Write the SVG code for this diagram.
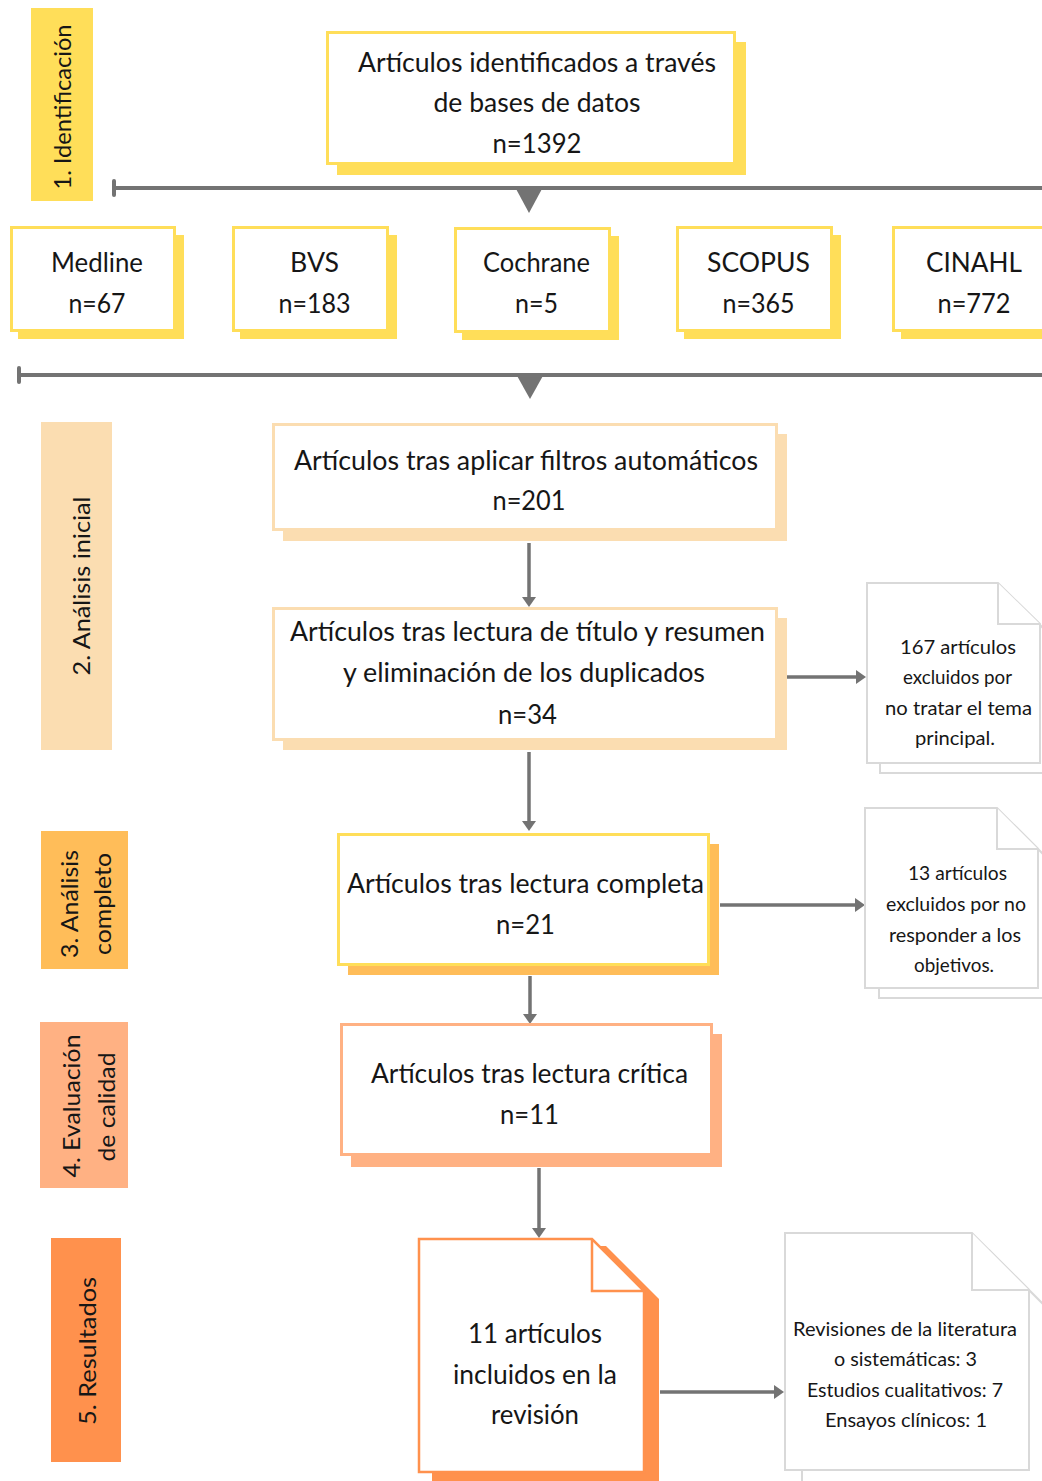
<svg xmlns="http://www.w3.org/2000/svg" width="1042" height="1481" viewBox="0 0 1042 1481">
<defs>
<style>
.t{font-family:Lato,"Open Sans","Liberation Sans",sans-serif;fill:#161616;text-anchor:middle}
.m{font-size:27px}
.s{font-size:20px}
.g{font-size:24px}
.conn{stroke:#737373;stroke-width:3.5;fill:none}
.bar{stroke:#737373;stroke-width:4;fill:none}
.tri{fill:#737373}
.box{fill:#ffffff;stroke-width:3}
.doc{fill:#ffffff;stroke:#D9D9D9;stroke-width:2}
</style>
<marker id="ah" viewBox="0 0 10 14" markerUnits="userSpaceOnUse" markerWidth="10" markerHeight="14" refX="2" refY="7" orient="auto">
<path d="M0,0 L10,7 L0,14 Z" fill="#737373"/>
</marker>
</defs>
<rect width="1042" height="1481" fill="#ffffff"/>

<!-- stage labels -->
<g id="stage1">
<rect x="31" y="8" width="62" height="193" fill="#FFDE59"/>
<text class="t g" transform="translate(71,107) rotate(-90)" textLength="165" lengthAdjust="spacingAndGlyphs">1.  Identificación</text>
</g>
<g id="stage2">
<rect x="41" y="422" width="71" height="328" fill="#FBDDB1"/>
<text class="t g" transform="translate(90,586) rotate(-90)" textLength="179" lengthAdjust="spacingAndGlyphs">2. Análisis inicial</text>
</g>
<g id="stage3">
<rect x="41" y="831" width="87" height="138" fill="#FFBD59"/>
<text class="t g" transform="translate(78,904) rotate(-90)" textLength="108" lengthAdjust="spacingAndGlyphs">3. Análisis</text>
<text class="t g" transform="translate(111,904) rotate(-90)" textLength="102" lengthAdjust="spacingAndGlyphs">completo</text>
</g>
<g id="stage4">
<rect x="40" y="1022" width="88" height="166" fill="#FFB183"/>
<text class="t g" transform="translate(80,1106) rotate(-90)" textLength="143" lengthAdjust="spacingAndGlyphs">4. Evaluación</text>
<text class="t g" transform="translate(115,1107) rotate(-90)" textLength="109" lengthAdjust="spacingAndGlyphs">de calidad</text>
</g>
<g id="stage5">
<rect x="51" y="1238" width="70" height="224" fill="#FF914D"/>
<text class="t g" transform="translate(96,1351) rotate(-90)" textLength="148" lengthAdjust="spacingAndGlyphs">5. Resultados</text>
</g>

<!-- connectors -->
<g id="connectors">
<line class="bar" x1="114" y1="188" x2="1042" y2="188"/>
<line x1="114" y1="181" x2="114" y2="195" stroke="#737373" stroke-width="4" stroke-linecap="round"/>
<polygon class="tri" points="515,187 543,187 529,213"/>
<line class="bar" x1="19" y1="375" x2="1042" y2="375"/>
<line x1="19" y1="368" x2="19" y2="382" stroke="#737373" stroke-width="4" stroke-linecap="round"/>
<polygon class="tri" points="516,374 544,374 530,399"/>
<line class="conn" x1="529" y1="543" x2="529" y2="599" marker-end="url(#ah)"/>
<line class="conn" x1="786" y1="677" x2="858" y2="677" marker-end="url(#ah)"/>
<line class="conn" x1="529" y1="752" x2="529" y2="823" marker-end="url(#ah)"/>
<line class="conn" x1="720" y1="905" x2="857" y2="905" marker-end="url(#ah)"/>
<line class="conn" x1="530" y1="976" x2="530" y2="1016" marker-end="url(#ah)"/>
<line class="conn" x1="539" y1="1168" x2="539" y2="1230" marker-end="url(#ah)"/>
<line class="conn" x1="660" y1="1392" x2="776" y2="1392" marker-end="url(#ah)"/>
</g>

<!-- top node -->
<g id="n_total">
<rect x="337" y="42" width="409" height="133" fill="#FFDE59"/>
<rect class="box" x="327.5" y="32.5" width="407" height="131" stroke="#FFDE59"/>
<text class="t m" x="537" y="72" textLength="358" lengthAdjust="spacingAndGlyphs">Artículos identificados a través</text>
<text class="t m" x="537" y="112" textLength="207" lengthAdjust="spacingAndGlyphs">de bases de datos</text>
<text class="t m" x="537" y="153" textLength="89" lengthAdjust="spacingAndGlyphs">n=1392</text>
</g>

<!-- database nodes -->
<g id="n_medline">
<rect x="18" y="235" width="166" height="104" fill="#FFDE59"/>
<rect class="box" x="11.5" y="227.5" width="163" height="103" stroke="#FFDE59"/>
<text class="t m" x="97" y="272" textLength="92" lengthAdjust="spacingAndGlyphs">Medline</text>
<text class="t m" x="97" y="313" textLength="57" lengthAdjust="spacingAndGlyphs">n=67</text>
</g>
<g id="n_bvs">
<rect x="240" y="235" width="157" height="104" fill="#FFDE59"/>
<rect class="box" x="233.5" y="227.5" width="154" height="103" stroke="#FFDE59"/>
<text class="t m" x="314.5" y="272" textLength="49" lengthAdjust="spacingAndGlyphs">BVS</text>
<text class="t m" x="314.5" y="313" textLength="72" lengthAdjust="spacingAndGlyphs">n=183</text>
</g>
<g id="n_cochrane">
<rect x="462" y="236" width="157" height="104" fill="#FFDE59"/>
<rect class="box" x="455.5" y="228.5" width="154" height="103" stroke="#FFDE59"/>
<text class="t m" x="536.5" y="272" textLength="107" lengthAdjust="spacingAndGlyphs">Cochrane</text>
<text class="t m" x="536.5" y="313" textLength="43" lengthAdjust="spacingAndGlyphs">n=5</text>
</g>
<g id="n_scopus">
<rect x="684" y="235" width="157" height="104" fill="#FFDE59"/>
<rect class="box" x="677.5" y="227.5" width="154" height="103" stroke="#FFDE59"/>
<text class="t m" x="758.5" y="272" textLength="103" lengthAdjust="spacingAndGlyphs">SCOPUS</text>
<text class="t m" x="758.5" y="313" textLength="72" lengthAdjust="spacingAndGlyphs">n=365</text>
</g>
<g id="n_cinahl">
<rect x="901" y="235" width="160" height="104" fill="#FFDE59"/>
<rect class="box" x="893.5" y="227.5" width="160" height="103" stroke="#FFDE59"/>
<text class="t m" x="974" y="272" textLength="96" lengthAdjust="spacingAndGlyphs">CINAHL</text>
<text class="t m" x="974" y="313" textLength="73" lengthAdjust="spacingAndGlyphs">n=772</text>
</g>

<!-- stage 2 nodes -->
<g id="n_filtros">
<rect x="283" y="434" width="504" height="107" fill="#FBDDB1"/>
<rect class="box" x="273.5" y="424.5" width="503" height="105" stroke="#FBDDB1"/>
<text class="t m" x="526" y="470" textLength="464" lengthAdjust="spacingAndGlyphs">Artículos tras aplicar filtros automáticos</text>
<text class="t m" x="529" y="510" textLength="73" lengthAdjust="spacingAndGlyphs">n=201</text>
</g>
<g id="n_titulo">
<rect x="283" y="618" width="504" height="132" fill="#FBDDB1"/>
<rect class="box" x="273.5" y="608.5" width="503" height="131" stroke="#FBDDB1"/>
<text class="t m" x="527.5" y="641" textLength="475" lengthAdjust="spacingAndGlyphs">Artículos tras lectura de título y resumen</text>
<text class="t m" x="524" y="682" textLength="362" lengthAdjust="spacingAndGlyphs">y eliminación de los duplicados</text>
<text class="t m" x="527.5" y="724" textLength="59" lengthAdjust="spacingAndGlyphs">n=34</text>
</g>
<g id="n_excl1">
<path class="doc" d="M880,773 V600 H1015 L1060,645 V773 Z"/>
<path class="doc" d="M867,583 H998 L1040,624 V763 H867 Z"/>
<path class="doc" d="M998,583 V624 H1040"/>
<text class="t s" x="958" y="654" textLength="116" lengthAdjust="spacingAndGlyphs">167 artículos</text>
<text class="t s" x="957.5" y="684" textLength="109" lengthAdjust="spacingAndGlyphs">excluidos por</text>
<text class="t s" x="958.5" y="715" textLength="147" lengthAdjust="spacingAndGlyphs">no tratar el tema</text>
<text class="t s" x="955" y="745" textLength="80" lengthAdjust="spacingAndGlyphs">principal.</text>
</g>

<!-- stage 3 -->
<g id="n_completa">
<rect x="348" y="844" width="371" height="131" fill="#FFBD59"/>
<rect class="box" x="338.5" y="834.5" width="370" height="130" stroke="#FFDE59"/>
<text class="t m" x="525.5" y="893" textLength="357" lengthAdjust="spacingAndGlyphs">Artículos tras lectura completa</text>
<text class="t m" x="525.5" y="934" textLength="59" lengthAdjust="spacingAndGlyphs">n=21</text>
</g>
<g id="n_excl2">
<path class="doc" d="M879,998 V825 H1014 L1060,871 V998 Z"/>
<path class="doc" d="M865,808 H997 L1038,849 V988 H865 Z"/>
<path class="doc" d="M997,808 V849 H1038"/>
<text class="t s" x="957.5" y="880" textLength="99" lengthAdjust="spacingAndGlyphs">13 artículos</text>
<text class="t s" x="956" y="911" textLength="140" lengthAdjust="spacingAndGlyphs">excluidos por no</text>
<text class="t s" x="955" y="942" textLength="132" lengthAdjust="spacingAndGlyphs">responder a los</text>
<text class="t s" x="954" y="972" textLength="80" lengthAdjust="spacingAndGlyphs">objetivos.</text>
</g>

<!-- stage 4 -->
<g id="n_critica">
<rect x="351" y="1034" width="371" height="133" fill="#FFB183"/>
<rect class="box" x="341.5" y="1024.5" width="370" height="130" stroke="#FFB183"/>
<text class="t m" x="529.5" y="1083" textLength="317" lengthAdjust="spacingAndGlyphs">Artículos tras lectura crítica</text>
<text class="t m" x="529.5" y="1124" textLength="59" lengthAdjust="spacingAndGlyphs">n=11</text>
</g>

<!-- stage 5 -->
<g id="n_incluidos">
<path d="M432,1246 H606 L659,1299 V1481 H432 Z" fill="#FF914D"/>
<path d="M419,1239 H592 L644,1291 V1472 H419 Z" fill="#ffffff" stroke="#FF914D" stroke-width="2.5"/>
<path d="M592,1239 V1291 H644" fill="none" stroke="#FF914D" stroke-width="2.5"/>
<text class="t m" x="535" y="1343" textLength="134" lengthAdjust="spacingAndGlyphs">11 artículos</text>
<text class="t m" x="535" y="1384" textLength="164" lengthAdjust="spacingAndGlyphs">incluidos en la</text>
<text class="t m" x="535" y="1424" textLength="88" lengthAdjust="spacingAndGlyphs">revisión</text>
</g>
<g id="n_tipos">
<path class="doc" d="M802,1495 V1250 H989 L1049,1310 V1495 Z"/>
<path class="doc" d="M785,1233 H972 L1029,1290 V1470 H785 Z"/>
<path class="doc" d="M972,1233 V1290 H1029"/>
<text class="t s" x="905" y="1336" textLength="224" lengthAdjust="spacingAndGlyphs">Revisiones de la literatura</text>
<text class="t s" x="905.5" y="1366" textLength="143" lengthAdjust="spacingAndGlyphs">o sistemáticas: 3</text>
<text class="t s" x="905" y="1397" textLength="196" lengthAdjust="spacingAndGlyphs">Estudios cualitativos: 7</text>
<text class="t s" x="906" y="1427" textLength="162" lengthAdjust="spacingAndGlyphs">Ensayos clínicos: 1</text>
</g>
</svg>
